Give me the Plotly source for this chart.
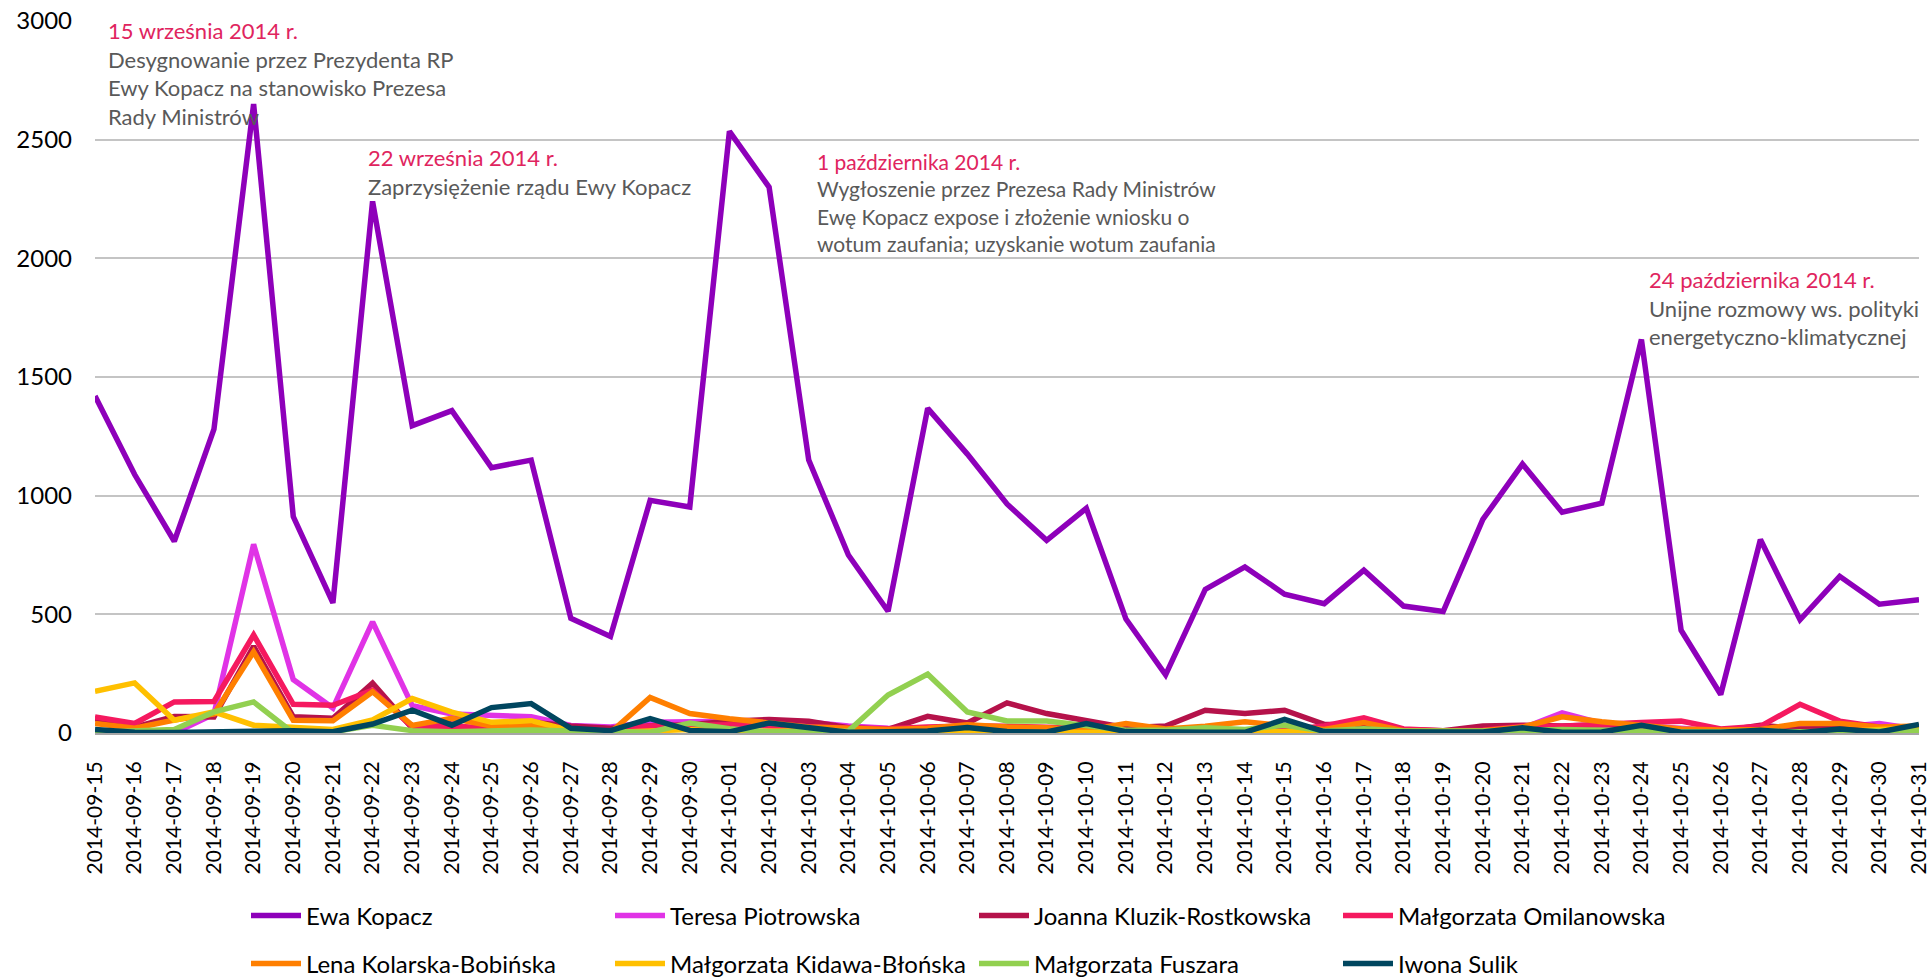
import plotly.graph_objects as go
import pandas as pd

dates = [d.strftime("%Y-%m-%d") for d in pd.date_range("2014-09-15", "2014-10-31")]

ewa_kopacz = [1420, 1089, 808, 1280, 2650, 912, 548, 2240, 1295, 1358, 1118, 1150, 483, 407, 980, 952,
              2535, 2300, 1150, 750, 513, 1368, 1175, 965, 812, 947, 480, 245, 605, 700, 585, 545,
              686, 535, 512, 900, 1133, 930, 968, 1658, 433, 162, 815, 477, 660, 543, 562]
teresa_piotrowska = [5, 0, 0, 80, 795, 225, 105, 468, 115, 80, 75, 68, 32, 25, 45, 50,
                     50, 50, 45, 30, 20, 18, 18, 15, 15, 15, 10, 5, 8, 10, 8, 5,
                     8, 5, 5, 10, 20, 85, 40, 30, 20, 10, 15, 20, 25, 40, 15]
joanna_kluzik = [60, 25, 70, 68, 365, 68, 62, 210, 20, 60, 40, 45, 30, 20, 30, 35,
                 50, 57, 50, 22, 15, 70, 42, 127, 82, 50, 22, 29, 96, 82, 96, 37,
                 31, 15, 10, 29, 33, 30, 35, 30, 15, 8, 33, 17, 20, 20, 25]
malgorzata_omilanowska = [68, 40, 131, 133, 413, 121, 117, 180, 25, 30, 20, 25, 15, 10, 30, 35,
                          35, 30, 25, 20, 18, 25, 30, 28, 25, 20, 10, 10, 15, 12, 12, 30,
                          64, 17, 10, 12, 28, 28, 38, 44, 50, 17, 28, 121, 50, 25, 20]
lena_kolarska = [40, 20, 55, 80, 342, 54, 52, 174, 32, 62, 30, 30, 5, 2, 150, 82,
                 60, 45, 25, 20, 15, 20, 35, 25, 22, 12, 40, 17, 29, 47, 30, 15,
                 44, 10, 8, 10, 25, 68, 47, 33, 17, 13, 15, 40, 40, 25, 30]
malgorzata_kidawa = [176, 211, 54, 89, 33, 24, 15, 55, 145, 88, 45, 52, 10, 2, 10, 15,
                     5, 8, 10, 5, 3, 3, 5, 3, 2, 2, 3, 3, 3, 2, 5, 10,
                     8, 3, 3, 3, 5, 3, 2, 3, 2, 3, 5, 3, 5, 15, 20]
malgorzata_fuszara = [3, 8, 15, 89, 131, 0, 5, 33, 10, 5, 10, 13, 8, 3, 3, 42,
                      18, 5, 5, 8, 160, 248, 89, 51, 51, 30, 12, 12, 22, 15, 33, 8,
                      18, 8, 8, 5, 10, 15, 10, 10, 5, 5, 8, 5, 8, 8, 8]
iwona_sulik = [15, 3, 2, 2, 7, 10, 5, 38, 96, 33, 107, 124, 20, 10, 61, 11,
               5, 42, 22, 3, 5, 8, 23, 6, 4, 40, 6, 3, 3, 3, 57, 6,
               4, 4, 4, 4, 22, 3, 4, 33, 3, 3, 12, 1, 17, 4, 36]

names = ["Ewa Kopacz", "Teresa Piotrowska", "Joanna Kluzik-Rostkowska", "Małgorzata Omilanowska",
         "Lena Kolarska-Bobińska", "Małgorzata Kidawa-Błońska", "Małgorzata Fuszara", "Iwona Sulik"]
series = [ewa_kopacz, teresa_piotrowska, joanna_kluzik, malgorzata_omilanowska,
          lena_kolarska, malgorzata_kidawa, malgorzata_fuszara, iwona_sulik]
colors = ["#8E00BA", "#E033E6", "#B5124A", "#F5195F", "#FF7F00", "#FFC000", "#92D050", "#00465F"]

events = [
    ("15 września 2014 r.", ["Desygnowanie przez Prezydenta RP", "Ewy Kopacz na stanowisko Prezesa", "Rady Ministrów"]),
    ("22 września 2014 r.", ["Zaprzysiężenie rządu Ewy Kopacz"]),
    ("1 października 2014 r.", ["Wygłoszenie przez Prezesa Rady Ministrów", "Ewę Kopacz expose i złożenie wniosku o",
                                "wotum zaufania; uzyskanie wotum zaufania"]),
    ("24 października 2014 r.", ["Unijne rozmowy ws. polityki", "energetyczno-klimatycznej"]),
]

W, H = 1932, 977
ML, MR, MT, MB = 95, 13, 21, 244
PW, PH = W - ML - MR, H - MT - MB

def px_x(x):
    return (x - ML) / PW

def px_y(y):
    return (H - MB - y) / PH

fig = go.Figure()
for i, (n, s, c) in enumerate(zip(names, series, colors)):
    fig.add_trace(go.Scatter(x=dates, y=s, name=n, mode="lines",
                             line=dict(color=c, width=5.5),
                             legend="legend" if i < 4 else "legend2"))

ann_pos = [(107, 16, 22), (367, 143, 22), (816, 148, 21), (1648, 265, 22)]
annotations = []
for (title, lines), (ax, ay, fs) in zip(events, ann_pos):
    text = "<span style='color:#E0245E'>" + title + "</span><br>" + "<br>".join(lines)
    annotations.append(dict(text=text, xref="paper", yref="paper", x=px_x(ax), y=px_y(ay),
                            xanchor="left", yanchor="top", align="left", showarrow=False,
                            font=dict(family="Lato", size=fs, color="#595959"), borderpad=0))

legend_common = dict(orientation="h", entrywidth=299, entrywidthmode="pixels",
                     itemwidth=50,
                     font=dict(family="Lato", size=24, color="#000000"),
                     xanchor="left", yanchor="middle", bgcolor="rgba(0,0,0,0)",
                     traceorder="normal")

fig.update_layout(
    width=W, height=H,
    margin=dict(l=ML, r=MR, t=MT, b=MB, autoexpand=False),
    paper_bgcolor="white", plot_bgcolor="white",
    font=dict(family="Lato", color="#000000"),
    xaxis=dict(type="category", tickangle=-90, tickfont=dict(family="Lato", size=21, color="#000000"),
               showgrid=False, showline=True, linecolor="#A6A6A6", linewidth=2,
               ticks="", ticklabelstandoff=18, ticklabeloverflow="allow"),
    yaxis=dict(range=[0, 3000], dtick=500, tickfont=dict(family="Lato", size=24, color="#000000"),
               showgrid=True, gridcolor="#C4C4C4", gridwidth=2, zeroline=False,
               showline=False, ticks="", ticklabelstandoff=22, ticklabeloverflow="allow"),
    legend=dict(x=px_x(246), y=px_y(916), **legend_common),
    legend2=dict(x=px_x(246), y=px_y(964), **legend_common),
    annotations=annotations,
    showlegend=True,
)

fig.write_html("out.html", config={"displayModeBar": False},
               post_script="document.body.style.margin='0px';")
